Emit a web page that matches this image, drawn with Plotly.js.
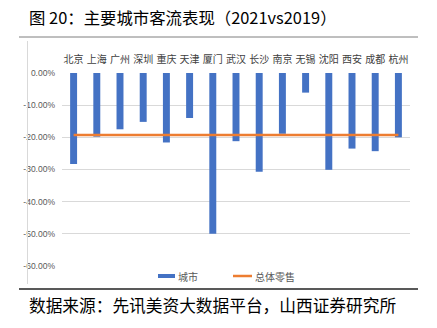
<!DOCTYPE html>
<html>
<head>
<meta charset="utf-8">
<script src="https://cdn.plot.ly/plotly-3.0.1.min.js"></script>
<style>html,body{margin:0;padding:0;background:#fff;}#chart{width:437px;height:328px;}</style>
</head>
<body>
<div id="chart"></div>
<script>
const cities = ["北京","上海","广州","深圳","重庆","天津","厦门","武汉","长沙","南京","无锡","沈阳","西安","成都","杭州"];
const cityValues = [-28.3,-19.8,-17.5,-15.2,-21.6,-14.0,-50.0,-21.2,-30.7,-18.9,-6.1,-30.1,-23.5,-24.3,-20.0];
const retailValues = [-19.3,-19.3,-19.3,-19.3,-19.3,-19.3,-19.3,-19.3,-19.3,-19.3,-19.3,-19.3,-19.3,-19.3,-19.3];
const yTickVals = [0,-10,-20,-30,-40,-50,-60];
const yTickText = ["0.00%","-10.00%","-20.00%","-30.00%","-40.00%","-50.00%","-60.00%"];
const seriesNames = ["城市","总体零售"];
const titleText = "图 20：主要城市客流表现（2021vs2019）";
const sourceText = "数据来源：先讯美资大数据平台，山西证券研究所";

const W = 437, H = 328, ML = 62, MR = 27, MT = 73, MB = 62;
const pw = W - ML - MR, ph = H - MT - MB;
const px = x => (x - ML) / pw;
const py = y => (H - MB - y) / ph;
const FONT = '"Noto Sans CJK SC", "Noto Sans", sans-serif';
const BAR_COLOR = '#4472C4', LINE_COLOR = '#ED7D31';

const traces = [
  {type:'bar', x:cities, y:cityValues, name:seriesNames[0], marker:{color:BAR_COLOR}, hoverinfo:'skip'},
  {type:'scatter', mode:'lines', x:cities, y:retailValues, name:seriesNames[1], line:{color:LINE_COLOR, width:2.5}, hoverinfo:'skip'}
];

const layout = {
  width:W, height:H,
  margin:{l:ML, r:MR, t:MT, b:MB, pad:0},
  paper_bgcolor:'#fff', plot_bgcolor:'#fff',
  font:{family:FONT, color:'#404040'},
  bargap:0.7,
  showlegend:false,
  xaxis:{side:'top', type:'category', range:[-0.5,14.5], showgrid:false, zeroline:false, showline:false,
         ticks:'', tickangle:0, ticklabelstandoff:7, tickfont:{size:10, color:'#404040', family:FONT}, fixedrange:true},
  yaxis:{range:[-60,0], tickvals:yTickVals, ticktext:yTickText, showgrid:true, gridcolor:'#D9D9D9', gridwidth:1,
         zeroline:false, showline:false, ticks:'', ticklabelstandoff:6, tickfont:{size:8.5, color:'#595959', family:'"Liberation Sans", Arial, sans-serif'}, fixedrange:true},
  shapes:[
    {type:'line', xref:'paper', yref:'paper', x0:px(19), x1:px(418), y0:py(37), y1:py(37), line:{color:'#7F7F7F', width:1}},
    {type:'line', xref:'paper', yref:'paper', x0:px(19), x1:px(418), y0:py(289), y1:py(289), line:{color:'#595959', width:2}},
    {type:'line', xref:'paper', yref:'paper', x0:px(27.5), x1:px(27.5), y0:py(41), y1:py(284), line:{color:'#D9D9D9', width:1}},
    {type:'rect', xref:'paper', yref:'paper', x0:px(158), x1:px(175), y0:py(274), y1:py(278), fillcolor:BAR_COLOR, line:{width:0}},
    {type:'line', xref:'paper', yref:'paper', x0:px(233), x1:px(252), y0:py(276), y1:py(276), line:{color:LINE_COLOR, width:2.5}}
  ],
  annotations:[
    {text:titleText, xref:'paper', yref:'paper', x:px(27), y:py(17), xanchor:'left', yanchor:'middle', showarrow:false,
     font:{size:16.4, color:'#000', family:FONT}},
    {text:sourceText, xref:'paper', yref:'paper', x:px(27), y:py(305), xanchor:'left', yanchor:'middle', showarrow:false,
     font:{size:16.7, color:'#000', family:FONT}},
    {text:seriesNames[0], xref:'paper', yref:'paper', x:px(176), y:py(276), xanchor:'left', yanchor:'middle', showarrow:false,
     font:{size:10, color:'#595959', family:FONT}},
    {text:seriesNames[1], xref:'paper', yref:'paper', x:px(253), y:py(276), xanchor:'left', yanchor:'middle', showarrow:false,
     font:{size:10, color:'#595959', family:FONT}}
  ]
};

Plotly.newPlot('chart', traces, layout, {displayModeBar:false, staticPlot:true});
</script>
</body>
</html>
